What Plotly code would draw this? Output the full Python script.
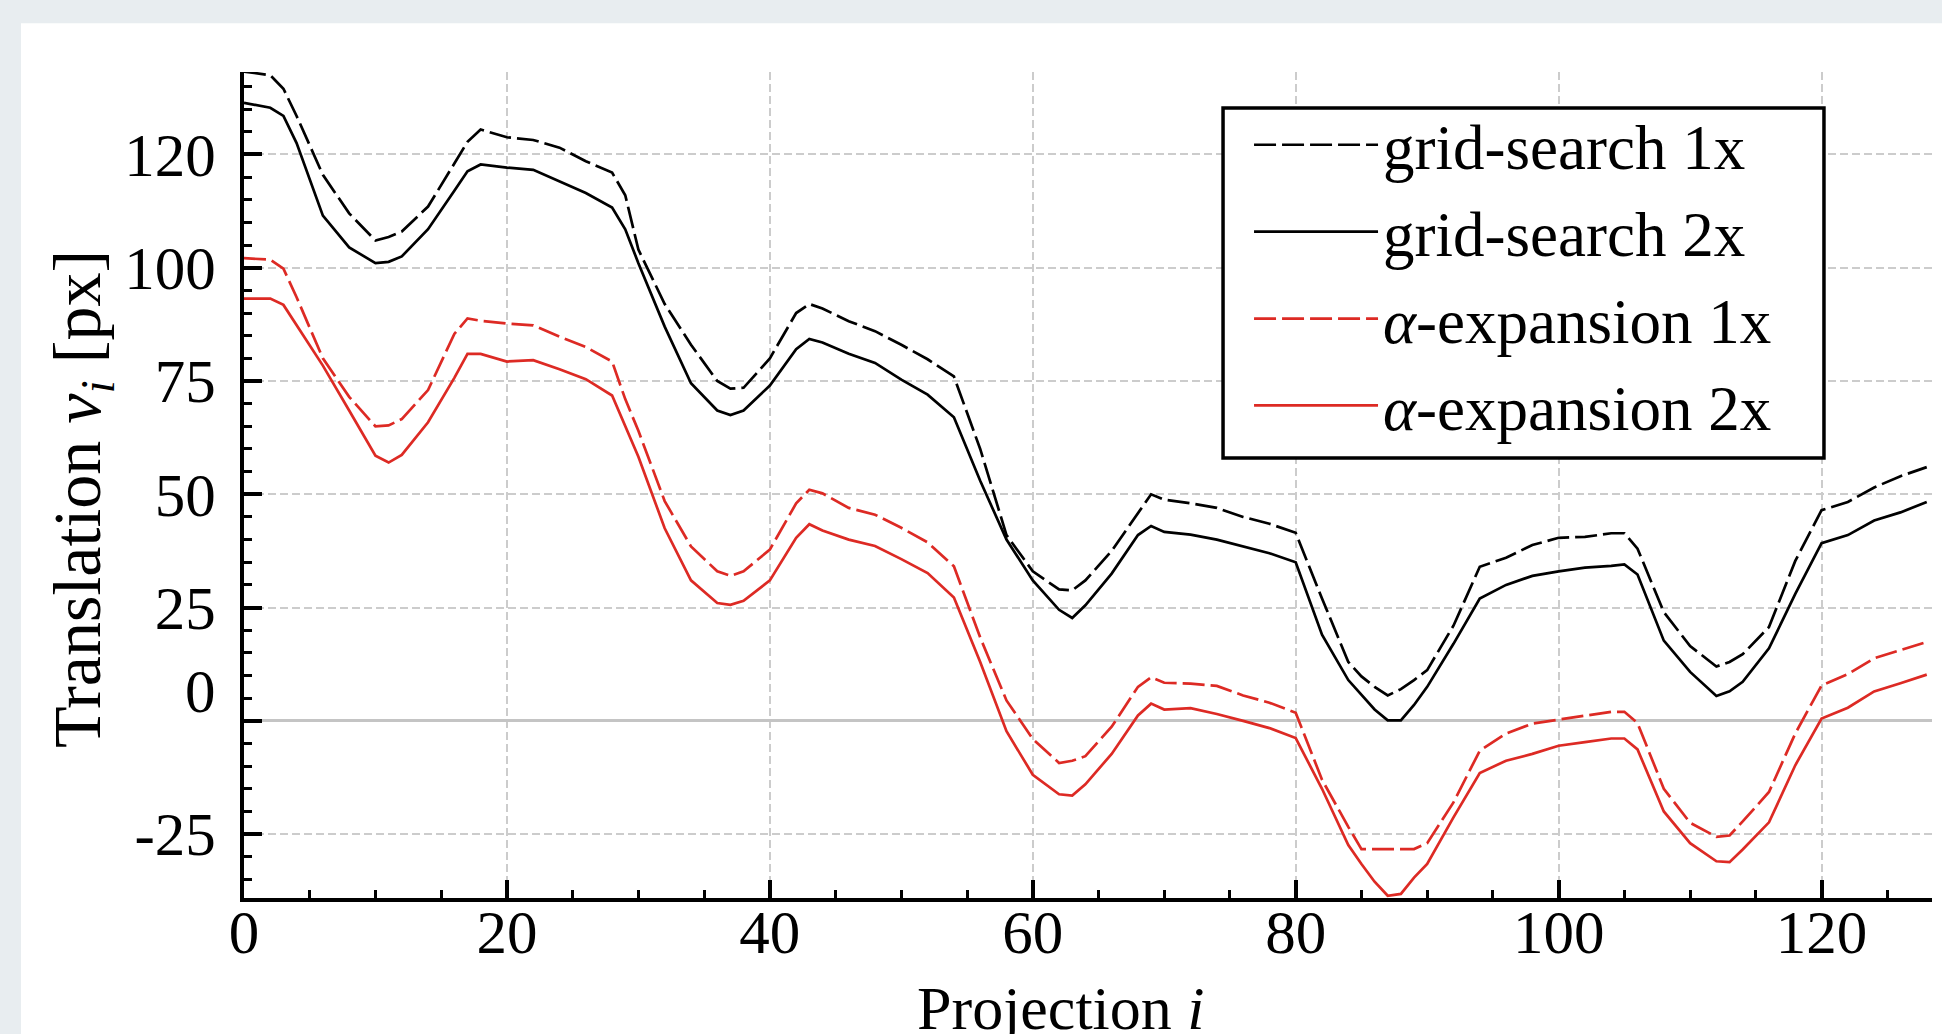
import plotly.graph_objects as go

projection = [0, 2, 3, 4, 6, 8, 10, 11, 12, 14, 16, 17, 18, 20, 22, 24, 26, 28, 29, 30,
              32, 34, 36, 37, 38, 40, 42, 43, 44, 46, 48, 50, 52, 54, 56, 58, 60, 62, 63, 64,
              66, 68, 69, 70, 72, 74, 76, 78, 80, 82, 84, 85, 86, 87, 88, 89, 90, 92, 94, 96,
              98, 100, 102, 104, 105, 106, 108, 110, 112, 113, 114, 116, 118, 120, 122, 124, 126, 128]

grid_search_1x = [143.3, 142.5, 139.5, 133.5, 120.5, 112, 106, 106.8, 108, 113.5,
                  123, 127.8, 130.5, 128.8, 128.2, 126.5, 123.5, 121, 116, 104,
                  92, 83, 75, 73.3, 73.5, 80, 90, 92, 91, 88.2,
                  86, 83, 79.8, 76, 60, 41, 33, 29, 28.8, 31,
                  37.5, 46, 50, 48.8, 48, 47, 45, 43.5, 41.5, 27,
                  13, 9.8, 7.5, 5.6, 7, 9, 11.2, 21, 34, 36,
                  38.8, 40.4, 40.6, 41.4, 41.4, 38, 24, 16.5, 12, 13,
                  14.7, 20.7, 35.3, 46.5, 48.3, 51.5, 54, 56]

grid_search_2x = [136.4, 135.3, 133.5, 127.5, 111.5, 104.5, 101, 101.3, 102.5, 108.5,
                  117, 121.3, 122.8, 122.1, 121.6, 119, 116.5, 113.3, 108.5, 101,
                  87, 74.5, 68.5, 67.5, 68.5, 74, 82, 84.3, 83.5, 81,
                  79, 75.3, 72, 67, 53, 40, 31, 24.5, 22.7, 25.5,
                  32.5, 41, 43, 41.7, 41.1, 40, 38.5, 37, 35, 19,
                  9, 5.8, 2.5, 0.1, 0.1, 3.5, 7.5, 17, 27, 30,
                  32, 33, 33.8, 34.2, 34.5, 32.3, 17.7, 10.8, 5.5, 6.5,
                  8.6, 16, 28, 39.2, 41, 44.2, 46, 48.3]

alpha_expansion_1x = [102.1, 101.8, 99.8, 93.5, 80, 71.5, 65, 65.2, 66.6, 73,
                      85.4, 88.8, 88.3, 87.7, 87.3, 84.8, 82.5, 79.3, 71, 64,
                      48.5, 38.5, 33, 32, 33, 37.8, 48, 51, 50.2, 47,
                      45.5, 42.6, 39.4, 34.1, 18.4, 4.5, -4, -9.3, -8.8, -7.8,
                      -1.3, 7.5, 9.6, 8.4, 8.2, 7.7, 5.6, 4, 1.8, -13,
                      -23.4, -28.3, -28.3, -28.3, -28.3, -28.3, -27, -18, -6.6, -2.8,
                      -0.6, 0.3, 1.2, 2, 2, -0.5, -15, -22.5, -25.6, -25.3,
                      -22.2, -15.7, -2.8, 7.8, 10.3, 13.8, 15.6, 17.4]

alpha_expansion_2x = [93.2, 93.2, 91.8, 87.3, 78.4, 68.5, 58.5, 57, 58.7, 65.9,
                      75.7, 81, 81, 79.3, 79.6, 77.6, 75.4, 71.8, 65, 58.3,
                      42.5, 31, 26, 25.6, 26.5, 31, 40.4, 43.4, 42, 40,
                      38.6, 35.7, 32.6, 27.2, 13, -2.3, -11.9, -16.2, -16.5, -14,
                      -7.3, 1.2, 3.8, 2.5, 2.8, 1.5, 0, -1.6, -3.8, -15,
                      -27.4, -31.6, -35.5, -38.6, -38.2, -34.6, -31.6, -21.3, -11.5, -8.8,
                      -7.3, -5.5, -4.7, -3.9, -3.9, -6.3, -20, -27, -31, -31.2,
                      -28.4, -22.4, -9.8, 0.5, 2.9, 6.5, 8.3, 10.2]

y_tickvals = [-25, 0, 25, 50, 75, 100, 125]
y_ticktext = ["-25", "", "25", "50", "75", "100", "120"]

FONT = "Liberation Serif"
RED = "#dd2a24"
DASH = "22px,6px"
LW = 2.7

fig = go.Figure()
fig.add_trace(go.Scatter(x=projection, y=grid_search_1x, mode="lines", name="grid-search 1x",
                         legendgroup="a", line=dict(color="black", width=LW, dash=DASH)))
fig.add_trace(go.Scatter(x=projection, y=grid_search_2x, mode="lines", name="grid-search 2x",
                         legendgroup="b", line=dict(color="black", width=LW)))
fig.add_trace(go.Scatter(x=projection, y=alpha_expansion_1x, mode="lines", name="<i>α</i>-expansion 1x",
                         legendgroup="c", line=dict(color=RED, width=LW, dash=DASH)))
fig.add_trace(go.Scatter(x=projection, y=alpha_expansion_2x, mode="lines", name="<i>α</i>-expansion 2x",
                         legendgroup="d", line=dict(color=RED, width=LW)))

fig.update_layout(
    width=1942, height=1034,
    margin=dict(l=244, r=10, t=72, b=136),
    paper_bgcolor="#e8edf0",
    plot_bgcolor="white",
    font=dict(family=FONT, size=62, color="black"),
    showlegend=True,
    legend=dict(x=0.5954, y=0.9694, xanchor="left", yanchor="top",
                bgcolor="rgba(0,0,0,0)", borderwidth=0,
                font=dict(family=FONT, size=63, color="black"),
                itemwidth=124, tracegroupgap=2),
    shapes=[
        dict(type="rect", xref="paper", yref="paper", x0=-0.1321, x1=1.02, y0=-0.3, y1=1.0589,
             fillcolor="white", line=dict(width=0), layer="below"),
        dict(type="rect", xref="paper", yref="paper", x0=0.58, x1=0.936, y0=0.5327, y1=0.9564,
             fillcolor="white", line=dict(width=3.5, color="black"), layer="above"),
    ],
    annotations=[
        dict(text="0", xref="paper", yref="y", x=-0.0154, y=6.5, xanchor="right", yanchor="middle",
             showarrow=False, font=dict(family=FONT, size=61, color="black")),
        dict(text="Translation <i>v<sub>i</sub></i> [px]", xref="paper", yref="paper",
             x=-0.0966, y=0.483, textangle=-90, xanchor="center", yanchor="middle",
             showarrow=False, font=dict(family=FONT, size=68, color="black")),
        dict(text="Projection <i>i</i>", xref="paper", yref="paper",
             x=0.484, y=-0.1337, xanchor="center", yanchor="middle",
             showarrow=False, font=dict(family=FONT, size=62, color="black")),
    ],
)

fig.update_xaxes(
    range=[0, 128.4], tickmode="linear", tick0=0, dtick=20,
    ticks="inside", ticklen=18, tickwidth=3.5, tickcolor="black",
    showline=True, linecolor="black", linewidth=4,
    showgrid=True, gridcolor="#cccccc", gridwidth=2, griddash="8px,4px",
    zeroline=False, ticklabelstandoff=-22,
    tickfont=dict(family=FONT, size=61, color="black"),
    minor=dict(ticks="inside", ticklen=8, tickwidth=3, tickcolor="black",
               tickmode="linear", tick0=0, dtick=5, showgrid=False),
)
fig.update_yaxes(
    range=[-39.1, 143.2], tickmode="array", tickvals=y_tickvals, ticktext=y_ticktext,
    ticks="inside", ticklen=18, tickwidth=3.5, tickcolor="black",
    showline=True, linecolor="black", linewidth=4,
    showgrid=True, gridcolor="#cccccc", gridwidth=2, griddash="8px,4px",
    zeroline=True, zerolinecolor="#c4c4c4", zerolinewidth=3,
    ticklabelstandoff=12, tickfont=dict(family=FONT, size=61, color="black"),
    minor=dict(ticks="inside", ticklen=8, tickwidth=3, tickcolor="black",
               tickmode="linear", tick0=0, dtick=5, showgrid=False),
)

fig.write_html("out.html", config={"displayModeBar": False},
               post_script="document.body.style.margin='0';document.body.style.overflow='hidden';")
